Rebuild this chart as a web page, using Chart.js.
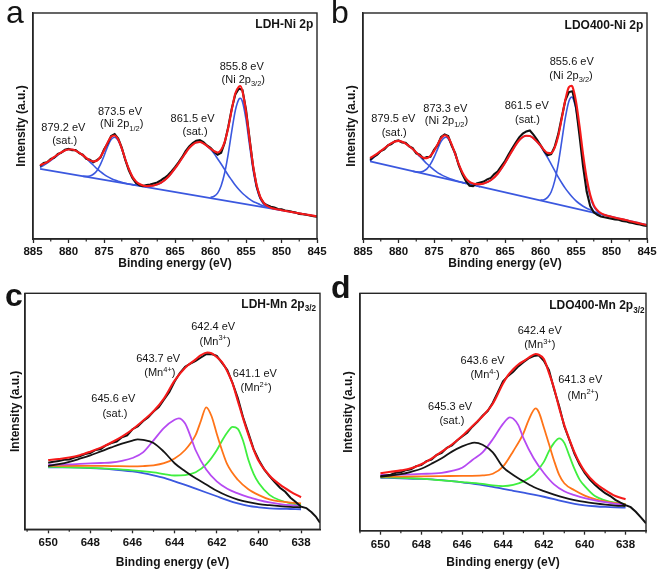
<!DOCTYPE html>
<html>
<head>
<meta charset="utf-8">
<script src="https://cdn.jsdelivr.net/npm/chart.js@4.4.1/dist/chart.umd.min.js"></script>
<style>
html,body{margin:0;padding:0;background:#fff;}
body{width:661px;height:572px;position:relative;overflow:hidden;}
canvas{position:absolute;}
</style>
</head>
<body>
<canvas id="pa" width="330" height="280" style="left:0;top:0;width:330px;height:280px"></canvas>
<canvas id="pb" width="331" height="280" style="left:330px;top:0;width:331px;height:280px"></canvas>
<canvas id="pc" width="330" height="304" style="left:0;top:268px;width:330px;height:304px"></canvas>
<canvas id="pd" width="331" height="304" style="left:330px;top:268px;width:331px;height:304px"></canvas>
<script>
// ---------------- tick labels ----------------
const niTicks = [885, 880, 875, 870, 865, 860, 855, 850, 845];
const niMinorTicks = [882.5, 877.5, 872.5, 867.5, 862.5, 857.5, 852.5, 847.5];
const mnTicks = [650, 648, 646, 644, 642, 640, 638];
const mnMinorTicks = [651, 649, 647, 645, 643, 641, 639, 637];

// ---------------- Ni 2p : energies of the raw spectra ----------------
const niGrid = [884,883.5,883,882.5,882,881.5,881,880.5,880,879.5,879,878.5,878,877.5,877,876.5,876,875.5,875,874.5,874,873.5,873,872.5,872,871.5,871,870.5,870,869.5,869,868.5,868,867.5,867,866.5,866,865.5,865,864.5,864,863.5,863,862.5,862,861.5,861,860.5,860,859.5,859,858.5,858,857.5,857,856.5,856,855.5,855,854.5,854,853.5,853,852.5,852,851.5,851,850.5,850,849.5,849,848.5,848,847.5,847,846.5,846,845.5,845];

// ---------------- (a) LDH-Ni 2p ----------------
const ldhNiRaw = [32.2,33.6,34.0,35.4,36.0,37.6,38.2,39.5,39.9,39.3,39.4,38.0,37.3,35.5,35.1,34.0,34.9,36.0,39.6,42.2,45.6,46.4,44.5,40.5,35.0,30.4,27.0,24.8,23.8,23.4,23.9,24.1,24.6,25.0,25.9,27.0,28.2,29.9,31.8,33.9,36.2,38.9,40.9,42.4,43.5,43.8,42.9,41.4,40.4,38.6,37.3,38.2,42.6,49.6,57.8,64.0,66.6,65.9,57.2,44.5,32.0,23.2,18.3,15.9,14.9,14.3,13.9,13.3,13.1,12.6,12.4,12.0,11.7,11.1,11.0,10.7,10.4,10.1,9.9];
const ldhNiFit = [[884,32.6],[883,34.0],[882,36.3],[881,38.4],[880,39.6],[879.5,39.6],[879,39.1],[878,37.1],[877.5,35.9],[877,34.8],[876.5,34.35],[876,34.6],[875.5,36.4],[875,39.2],[874.5,42.6],[874,45.2],[873.5,45.8],[873,44.0],[872.5,40.1],[872,35.3],[871.5,31.0],[871,27.6],[870.5,25.5],[870,24.35],[869.5,23.7],[869,23.4],[868.5,23.5],[868,23.7],[867,24.8],[866,27.3],[865,31.2],[864,35.8],[863,40.3],[862,42.75],[861.5,42.9],[861,42.3],[860,40.0],[859.5,38.9],[859,38.3],[858.5,39.5],[858,43.0],[857.5,49.2],[857,57.3],[856.5,64.5],[856,67.4],[855.8,67.7],[855.5,65.4],[855,56.4],[854.5,44.0],[854,32.4],[853.5,23.9],[853,18.7],[852.5,16.0],[852,14.6],[851.5,13.85],[851,13.4],[850,12.75],[849,12.15],[848,11.6],[847,11.1],[846,10.55],[845,10.0]];
const ldhNiSat879 = [[884,31.6],[883,33.6],[882,35.9],[881,38.2],[880,39.6],[879.5,39.6],[879,39.1],[878,37.05],[877.5,35.7],[877,34.1],[876.5,32.65],[876,31.1],[875.5,29.8],[875,28.6],[874.5,27.6],[874,26.8],[873.5,26.1],[873,25.6],[872.5,25.1],[872,24.7],[871.5,24.35],[871,24.1],[870.5,23.75]];
const ldhNi2p12 = [[878,27.75],[877.5,27.7],[877,27.9],[876.5,28.65],[876,30.2],[875.5,33.0],[875,36.7],[874.5,40.9],[874,44.0],[873.5,45.0],[873,43.5],[872.5,39.8],[872,35.1],[871.5,30.9],[871,27.5],[870.5,25.4],[870,24.15],[869.5,23.4],[869,22.9]];
const ldhNiSat861 = [[871,24.0],[870,23.65],[869,23.4],[868,23.7],[867,24.8],[866,27.3],[865,31.2],[864,35.8],[863,40.3],[862,42.75],[861.5,42.9],[861,42.3],[860,39.7],[859.5,37.8],[859,35.5],[858.5,33.2],[858,30.7],[857.5,28.2],[857,26.0],[856.5,23.8],[856,21.9],[855.5,20.25],[855,18.9],[854.5,17.6],[854,16.6],[853.5,15.9],[853,15.2],[852.5,14.6],[852,14.2],[851.5,13.75],[851,13.4],[850,12.75]];
const ldhNi2p32 = [[860,18.4],[859.5,18.9],[859,20.3],[858.5,23.6],[858,29.3],[857.5,37.7],[857,47.8],[856.5,56.9],[856,61.9],[855.8,62.3],[855.5,60.75],[855,52.9],[854.5,41.5],[854,30.6],[853.5,22.6],[853,17.8],[852.5,15.4],[852,14.2],[851.5,13.6]];
const ldhNiBg = [[884,31.0],[845,10.0]];

// ---------------- (b) LDO400-Ni 2p ----------------
const ldoNiRaw = [35.0,36.4,37.3,38.9,39.6,41.4,42.0,43.3,43.6,42.7,42.6,41.0,40.2,37.9,37.3,35.6,36.3,36.4,39.5,41.5,45.2,46.3,45.6,41.2,37.9,32.4,28.6,25.6,23.6,23.4,24.6,25.0,25.4,26.4,27.0,28.7,30.0,32.2,34.5,37.4,40.0,42.6,45.0,46.6,47.6,48.0,46.2,44.0,41.6,39.0,37.0,37.5,40.8,46.4,54.0,61.4,65.0,65.4,58.4,45.5,32.0,21.0,14.6,11.8,10.7,10.0,9.6,9.3,9.0,8.7,8.5,8.0,7.8,7.3,7.1,6.6,6.4,6.0,5.8];
const ldoNiFit = [[884,35.8],[883,37.8],[882,40.1],[881,42.4],[880,43.4],[879.5,43.0],[879,42.2],[878,39.8],[877.5,38.3],[877,36.9],[876.5,36.0],[876,35.8],[875.5,36.8],[875,38.9],[874.5,41.8],[874,44.6],[873.5,45.9],[873,45.0],[872.5,41.8],[872,37.5],[871.5,33.0],[871,29.4],[870.5,26.8],[870,25.3],[869.5,24.6],[869,24.3],[868.5,24.3],[868,24.6],[867,26.0],[866,29.0],[865,33.6],[864,39.0],[863,43.7],[862,45.7],[861.5,45.6],[861,44.6],[860,41.35],[859.5,39.4],[859,38.1],[858.5,38.0],[858,40.4],[857.5,45.6],[857,53.4],[856.5,61.6],[856,67.2],[855.6,67.8],[855.5,67.4],[855,60.9],[854.5,49.9],[854,37.4],[853.5,26.9],[853,19.6],[852.5,15.0],[852,12.7],[851.5,11.4],[851,10.7],[850,9.85],[849,9.1],[848,8.4],[847,7.6],[846,6.9],[845,6.2]];
const ldoNiSat879 = [[884,34.6],[883,37.4],[882,40.1],[881,42.4],[880,43.4],[879.5,43.0],[879,42.2],[878,39.8],[877.5,38.2],[877,36.5],[876.5,34.9],[876,33.3],[875.5,31.9],[875,30.6],[874.5,29.4],[874,28.5],[873.5,27.7],[873,27.0],[872.5,26.4],[872,25.9],[871.5,25.45],[871,25.0],[870.5,24.6]];
const ldoNi2p12 = [[878,29.96],[877.5,29.7],[877,29.6],[876.5,30.0],[876,31.0],[875.5,33.1],[875,36.1],[874.5,39.8],[874,43.2],[873.5,44.9],[873.3,45.0],[873,44.4],[872.5,41.4],[872,37.2],[871.5,32.9],[871,29.2],[870.5,26.7],[870,25.1],[869.5,24.2],[869,23.6],[868.5,23.12]];
const ldoNiSat861 = [[871,25.0],[870,24.4],[869.5,24.2],[869,24.2],[868.5,24.3],[868,24.6],[867,26.0],[866,29.0],[865,33.6],[864,39.0],[863,43.7],[862,45.7],[861.7,45.7],[861.5,45.6],[861,44.6],[860,41.1],[859.5,38.6],[859,36.0],[858.5,33.1],[858,30.3],[857.5,27.4],[857,24.8],[856.5,22.4],[856,20.3],[855.5,18.5],[855,16.9],[854.5,15.6],[854,14.5],[853.5,13.6],[853,12.9],[852.5,12.2],[852,11.6],[851.5,11.1],[851,10.6],[850,9.85]];
const ldoNi2p32 = [[860,17.25],[859.5,17.4],[859,18.4],[858.5,20.8],[858,25.7],[857.5,33.4],[857,43.4],[856.5,53.7],[856,61.0],[855.6,62.8],[855.5,62.7],[855,57.4],[854.5,47.3],[854,35.6],[853.5,25.6],[853,18.7],[852.5,14.4],[852,12.3],[851.5,11.2],[851,10.6]];
const ldoNiBg = [[884,34.3],[845,6.2]];

// ---------------- (c) LDH-Mn 2p3/2 ----------------
const ldhMnRaw = [[650,28.2],[649.75,28.6],[649.5,28.9],[649.25,29.5],[649,29.6],[648.75,30.4],[648.5,30.9],[648.25,31.9],[648,32.3],[647.75,33.6],[647.5,34.0],[647.25,35.6],[647,36.5],[646.75,37.2],[646.5,39.0],[646.25,39.8],[646,42.4],[645.75,43.6],[645.5,45.8],[645.25,47.5],[645,49.9],[644.75,51.8],[644.5,55.0],[644.25,58.2],[644,62.6],[643.75,66.2],[643.5,68.9],[643.25,70.2],[643,71.4],[642.75,72.8],[642.5,74.2],[642.25,74.3],[642,73.5],[641.75,70.5],[641.5,67.5],[641.25,62.0],[641,55.6],[640.75,47.5],[640.5,40.8],[640.25,34.0],[640,29.3],[639.75,25.4],[639.5,22.5],[639.25,20.0],[639,17.6],[638.75,15.9],[638.5,13.4],[638.25,11.6],[638,9.6],[637.75,9.0],[637.5,7.2],[637.3,5.4],[637.1,2.8]];
const ldhMnFit = [[650,29.3],[649.5,29.8],[649,30.4],[648.5,31.4],[648,32.9],[647.5,34.6],[647,36.8],[646.5,39.3],[646,42.3],[645.5,46.0],[645,50.0],[644.5,55.5],[644,63.0],[643.5,68.5],[643,72.0],[642.75,73.8],[642.45,74.9],[642.25,74.6],[642,73.0],[641.75,70.8],[641.5,67.0],[641.25,61.8],[641,54.4],[640.75,47.0],[640.5,40.1],[640.25,33.8],[640,28.8],[639.5,22.8],[639,18.9],[638.5,16.0],[638,13.6]];
const ldhMnSat = [[650,26.8],[649.5,27.6],[649,28.6],[648.5,29.9],[648,31.3],[647.5,33.0],[647,34.7],[646.5,36.3],[646,37.6],[645.75,38.1],[645.5,37.9],[645,36.6],[644.5,32.8],[644,28.0],[643.5,24.6],[643,21.6],[642.5,19.0],[642,16.3],[641.5,14.2],[641,12.6],[640.5,11.5],[640,10.7],[639.5,10.2],[639,9.8],[638.5,9.5],[638,9.3]];
const ldhMn4 = [[650,27.3],[649.5,27.4],[649,27.5],[648.5,27.7],[648,27.9],[647.5,28.1],[647,28.3],[646.5,29.0],[646,30.2],[645.5,32.6],[645,37.7],[644.5,43.0],[644,46.4],[643.8,47.0],[643.5,44.8],[643.25,39.5],[643,33.5],[642.5,25.3],[642,20.3],[641.5,17.2],[641,15.2],[640.5,13.6],[640,12.4],[639.5,11.4],[639,10.7],[638.5,10.2],[638,9.9]];
const ldhMn3 = [[650,26.9],[649,26.9],[648,26.9],[647,26.8],[646,26.7],[645.5,26.8],[645,27.1],[644.5,28.0],[644,30.0],[643.5,33.6],[643,40.0],[642.75,46.0],[642.5,51.7],[642.25,48.0],[642,40.5],[641.75,33.5],[641.5,27.5],[641,21.0],[640.5,17.0],[640,14.5],[639.5,12.7],[639,11.8],[638.5,11.3],[638,11.0]];
const ldhMn2 = [[650,26.5],[649,26.3],[648,26.0],[647,25.6],[646,25.0],[645,24.1],[644.5,23.4],[644,22.8],[643.5,23.0],[643,24.2],[642.5,27.5],[642,33.5],[641.75,37.5],[641.5,41.0],[641.25,43.4],[641,42.6],[640.75,37.5],[640.5,29.5],[640.25,23.5],[640,19.5],[639.5,14.6],[639,12.3],[638.5,11.0],[638,10.3]];
const ldhMnBg = [[650,26.3],[649,26.2],[648,25.9],[647,25.4],[646.5,25.0],[646,24.5],[645.5,23.8],[645,22.9],[644.5,21.8],[644,20.3],[643.5,18.8],[643,17.2],[642.5,15.6],[642,14.0],[641.5,12.4],[641,11.0],[640.5,9.9],[640,9.3],[639.5,8.9],[639,8.7],[638.5,8.6],[638,8.5]];

// ---------------- (d) LDO400-Mn 2p3/2 ----------------
const ldoMnRaw = [[650,22.9],[649.75,23.3],[649.5,23.6],[649.25,24.4],[649,24.6],[648.75,25.5],[648.5,25.9],[648.25,27.2],[648,27.6],[647.75,29.3],[647.5,29.9],[647.25,31.9],[647,32.8],[646.75,34.9],[646.5,35.9],[646.25,38.0],[646,39.7],[645.75,41.3],[645.5,43.8],[645.25,45.9],[645,48.4],[644.75,50.4],[644.5,53.9],[644.25,58.4],[644,62.9],[643.75,65.2],[643.5,66.9],[643.25,69.2],[643,71.0],[642.75,72.6],[642.5,73.6],[642.25,73.9],[642,71.6],[641.75,67.6],[641.5,59.6],[641.25,52.4],[641,44.0],[640.75,38.2],[640.5,32.4],[640.25,27.9],[640,24.3],[639.75,21.5],[639.5,19.4],[639.25,17.5],[639,15.8],[638.75,14.6],[638.5,13.0],[638.25,11.8],[638,10.8],[637.75,9.9],[637.5,8.0],[637.25,5.6],[637.0,3.1]];
const ldoMnFit = [[650,24.2],[649.5,24.8],[649,25.4],[648.5,26.3],[648,28.0],[647.5,30.4],[647,33.3],[646.5,36.3],[646,39.9],[645.5,44.0],[645,48.2],[644.5,53.5],[644,62.0],[643.75,65.5],[643.5,68.0],[643.25,70.0],[643,71.4],[642.75,72.8],[642.4,74.4],[642.25,74.1],[642,72.3],[641.75,66.5],[641.5,60.0],[641.25,51.7],[641,44.5],[640.75,38.5],[640.5,33.0],[640.25,28.5],[640,25.0],[639.5,20.2],[639,17.1],[638.5,14.6],[638,13.2]];
const ldoMnSat = [[650,22.75],[649.5,23.2],[649,23.8],[648.5,24.8],[648,26.1],[647.5,28.2],[647,30.5],[646.5,33.3],[646,35.5],[645.5,37.0],[645.4,37.1],[645,36.2],[644.5,33.0],[644,26.8],[643.5,23.5],[643,20.8],[642.5,18.4],[642,16.7],[641.5,15.2],[641,13.9],[640.5,12.9],[640,12.1],[639.5,11.5],[639,11.0],[638.5,10.6],[638,10.4]];
const ldoMn4 = [[650,23.5],[649,23.6],[648,23.9],[647,24.4],[646.5,25.2],[646,26.5],[645.5,29.8],[645,33.0],[644.5,38.5],[644,45.0],[643.66,47.75],[643.5,47.2],[643.25,44.5],[643,39.0],[642.5,30.5],[642,24.3],[641.5,19.5],[641,16.6],[640.5,15.0],[640,13.7],[639.5,12.8],[639,12.0],[638.5,11.3],[638,10.8]];
const ldoMn3 = [[650,22.75],[649,22.8],[648,22.9],[647,23.0],[646,23.1],[645,23.3],[644.5,24.0],[644,27.0],[643.5,33.5],[643,41.0],[642.75,46.5],[642.4,51.5],[642.25,50.0],[642,43.5],[641.75,36.5],[641.5,29.5],[641.25,23.5],[641,20.0],[640.5,17.0],[640,14.8],[639.5,13.3],[639,12.3],[638.5,11.6],[638,11.2]];
const ldoMn2 = [[650,22.5],[649,22.3],[648,21.9],[647,21.2],[646,20.5],[645,19.7],[644.5,19.1],[644,18.8],[643.5,19.3],[643,20.8],[642.5,23.6],[642,29.0],[641.75,33.5],[641.5,37.0],[641.25,38.9],[641,37.0],[640.75,31.5],[640.5,26.0],[640.25,21.5],[640,18.8],[639.5,14.6],[639,12.8],[638.5,11.8],[638,11.2]];
const ldoMnBg = [[650,22.3],[649,22.1],[648,21.8],[647,21.3],[646.5,20.9],[646,20.4],[645.5,19.8],[645,19.2],[644.5,18.5],[644,17.6],[643.5,16.8],[643,16.0],[642.5,15.2],[642,14.3],[641.5,13.3],[641,12.2],[640.5,11.3],[640,10.7],[639.5,10.3],[639,10.0],[638.5,9.8],[638,9.7]];

// ---------------- peak labels (energy, intensity anchor, text runs: 0 normal, 1 sup, -1 sub) ----------------
const labelsA = [
  {x:880.73, y:49.5, s:[['879.2 eV',0]]}, {x:880.53, y:43.4, s:[['(sat.)',0]]},
  {x:872.75, y:56.5, s:[['873.5 eV',0]]}, {x:872.51, y:50.9, s:[['(Ni 2p',0],['1/2',-1],[')',0]]},
  {x:862.53, y:53.5, s:[['861.5 eV',0]]}, {x:862.18, y:47.5, s:[['(sat.)',0]]},
  {x:855.60, y:76.2, s:[['855.8 eV',0]]}, {x:855.38, y:70.4, s:[['(Ni 2p',0],['3/2',-1],[')',0]]}
];
const labelsB = [
  {x:880.73, y:53.4, s:[['879.5 eV',0]]}, {x:880.61, y:47.3, s:[['(sat.)',0]]},
  {x:873.41, y:57.8, s:[['873.3 eV',0]]}, {x:873.24, y:52.3, s:[['(Ni 2p',0],['1/2',-1],[')',0]]},
  {x:861.94, y:59.3, s:[['861.5 eV',0]]}, {x:861.83, y:52.7, s:[['(sat.)',0]]},
  {x:855.60, y:78.5, s:[['855.6 eV',0]]}, {x:855.70, y:72.2, s:[['(Ni 2p',0],['3/2',-1],[')',0]]}
];
const labelsC = [
  {x:642.17, y:85.8, s:[['642.4 eV',0]]}, {x:642.08, y:79.7, s:[['(Mn',0],['3+',1],[')',0]]},
  {x:644.78, y:72.5, s:[['643.7 eV',0]]}, {x:644.70, y:66.3, s:[['(Mn',0],['4+',1],[')',0]]},
  {x:640.19, y:66.1, s:[['641.1 eV',0]]}, {x:640.13, y:59.9, s:[['(Mn',0],['2+',1],[')',0]]},
  {x:646.91, y:55.3, s:[['645.6 eV',0]]}, {x:646.83, y:49.2, s:[['(sat.)',0]]}
];
const labelsD = [
  {x:642.20, y:84.5, s:[['642.4 eV',0]]}, {x:642.20, y:78.3, s:[['(Mn',0],['3+',1],[')',0]]},
  {x:645.00, y:71.5, s:[['643.6 eV',0]]}, {x:644.88, y:65.7, s:[['(Mn',0],['4-',1],[')',0]]},
  {x:640.22, y:63.5, s:[['641.3 eV',0]]}, {x:640.08, y:57.0, s:[['(Mn',0],['2+',1],[')',0]]},
  {x:646.59, y:52.2, s:[['645.3 eV',0]]}, {x:646.50, y:46.5, s:[['(sat.)',0]]}
];

// ---------------- rendering ----------------
const FONT = "'Liberation Sans', Arial, Helvetica, sans-serif";
const AX = '#262626';
const TXT = '#141414';
const C = {fit:'#f51a1a', raw:'#111111', blue:'#3b58df', purple:'#b64af2', orange:'#ff7418', green:'#3fef3f', dark:'#151515'};

const pts = a => a.map(p => ({x:p[0], y:p[1]}));
const zip = (xs, ys) => xs.map((x, i) => ({x, y:ys[i]}));

function drawRich(ctx, runs, cx, cy, size, weight, align) {
  const parts = runs.map(([t, k]) => {
    const fs = k === 0 ? size : size * 0.68;
    ctx.font = `${weight} ${fs}px ${FONT}`;
    return {t, k, fs, w: ctx.measureText(t).width};
  });
  const total = parts.reduce((s, p) => s + p.w, 0);
  let x = align === 'right' ? cx - total : cx - total / 2;
  const base = cy + size * 0.32;
  ctx.textAlign = 'left';
  ctx.textBaseline = 'alphabetic';
  for (const p of parts) {
    ctx.font = `${weight} ${p.fs}px ${FONT}`;
    const dy = p.k === -1 ? size * 0.28 : (p.k === 1 ? -size * 0.42 : 0);
    ctx.fillText(p.t, x, base + dy);
    x += p.w;
  }
}

function decor(p) {
  return {
    id: 'decor_' + p.id,
    afterDraw(chart) {
      const ctx = chart.ctx, ca = chart.chartArea, xs = chart.scales.x, ys = chart.scales.y;
      ctx.save();
      ctx.strokeStyle = AX;
      ctx.lineWidth = 1.4;
      ctx.strokeRect(ca.left, ca.top, ca.right - ca.left, ca.bottom - ca.top);
      ctx.lineWidth = 1.2;
      p.minor.forEach(v => {
        if (v < xs.min || v > xs.max) return;
        const x = xs.getPixelForValue(v);
        ctx.beginPath(); ctx.moveTo(x, ca.bottom); ctx.lineTo(x, ca.bottom + 2.5); ctx.stroke();
      });
      ctx.fillStyle = TXT;
      p.labels.forEach(a => drawRich(ctx, a.s, xs.getPixelForValue(a.x), ys.getPixelForValue(a.y), 11, 'normal', 'center'));
      drawRich(ctx, p.title, ca.right - p.titleDx, ca.top + p.titleDy, 12, 'bold', 'right');
      ctx.font = `${p.letterWeight} 32px ${FONT}`;
      ctx.textAlign = 'left'; ctx.textBaseline = 'alphabetic';
      ctx.fillText(p.letter, p.letterX, p.letterY);
      ctx.restore();
    }
  };
}

function line(data, color, width, smooth) {
  const d = {data, borderColor: color, borderWidth: width, pointRadius: 0, fill: false};
  if (smooth) d.cubicInterpolationMode = 'monotone'; else d.tension = 0;
  return d;
}

function build(p) {
  new Chart(document.getElementById(p.id), {
    type: 'line',
    data: {datasets: p.datasets},
    options: {
      responsive: false, animation: false, devicePixelRatio: 1, events: [],
      layout: {padding: {left: 0, top: p.area.t, right: p.W - p.area.r, bottom: 0}},
      plugins: {legend: {display: false}, tooltip: {enabled: false}},
      scales: {
        x: {
          type: 'linear', reverse: true, min: p.xmin, max: p.xmax, position: 'bottom',
          afterBuildTicks: s => { s.ticks = p.ticks.map(v => ({value: v})); },
          afterFit: s => { s.height = p.H - p.area.b; },
          ticks: {autoSkip: false, maxRotation: 0, minRotation: 0, padding: p.tickPad, color: TXT,
                  font: {family: FONT, size: 11.5, weight: 'bold'}, callback: v => String(v)},
          grid: {display: true, drawOnChartArea: false, drawTicks: true, tickLength: 4, tickColor: AX, tickWidth: 1.3},
          border: {display: true, color: AX, width: 1.4},
          title: {display: true, text: 'Binding energy (eV)', color: TXT,
                  font: {family: FONT, size: 12, weight: 'bold'}, padding: {top: 0, bottom: p.xTitlePad}}
        },
        y: {
          type: 'linear', min: 0, max: 100, position: 'left',
          afterFit: s => { s.width = p.area.l; },
          ticks: {display: false},
          grid: {display: false, drawTicks: false},
          border: {display: true, color: AX, width: 1.4},
          title: {display: true, text: 'Intensity (a.u.)', color: TXT,
                  font: {family: FONT, size: 12, weight: 'bold'}, padding: {top: p.yTitlePad, bottom: 0}}
        }
      }
    },
    plugins: [decor(p)]
  });
}

build({
  id: 'pa', W: 330, H: 280, area: {l: 33, r: 317, t: 13, b: 239}, xmin: 845, xmax: 885,
  ticks: niTicks, minor: niMinorTicks, tickPad: 1.8, xTitlePad: 9.5, yTitlePad: 14.5,
  labels: labelsA, title: [['LDH-Ni 2p', 0]], titleDx: 3.7, titleDy: 11.5,
  letter: 'a', letterWeight: 'normal', letterX: 6, letterY: 22.7,
  datasets: [
    line(pts(ldhNiFit), C.fit, 2.1, true),
    line(zip(niGrid, ldhNiRaw), C.raw, 2.1, false),
    line(pts(ldhNiSat879), C.blue, 1.6, true),
    line(pts(ldhNi2p12), C.blue, 1.6, true),
    line(pts(ldhNiSat861), C.blue, 1.6, true),
    line(pts(ldhNi2p32), C.blue, 1.6, true),
    line(pts(ldhNiBg), C.blue, 1.8, false)
  ]
});

build({
  id: 'pb', W: 331, H: 280, area: {l: 33, r: 317, t: 13, b: 239}, xmin: 845, xmax: 885,
  ticks: niTicks, minor: niMinorTicks, tickPad: 1.8, xTitlePad: 9.5, yTitlePad: 14.5,
  labels: labelsB, title: [['LDO400-Ni 2p', 0]], titleDx: 3.7, titleDy: 12,
  letter: 'b', letterWeight: 'normal', letterX: 1, letterY: 22.7,
  datasets: [
    line(pts(ldoNiFit), C.fit, 2.1, true),
    line(zip(niGrid, ldoNiRaw), C.raw, 2.1, false),
    line(pts(ldoNiSat879), C.blue, 1.6, true),
    line(pts(ldoNi2p12), C.blue, 1.6, true),
    line(pts(ldoNiSat861), C.blue, 1.6, true),
    line(pts(ldoNi2p32), C.blue, 1.6, true),
    line(pts(ldoNiBg), C.blue, 1.8, false)
  ]
});

build({
  id: 'pc', W: 330, H: 304, area: {l: 25, r: 320, t: 25.3, b: 261.3}, xmin: 637.1, xmax: 651.1,
  ticks: mnTicks, minor: mnMinorTicks, tickPad: 3.1, xTitlePad: 2.6, yTitlePad: 8.1,
  labels: labelsC, title: [['LDH-Mn 2p', 0], ['3/2', -1]], titleDx: 4, titleDy: 10.4,
  letter: 'c', letterWeight: 'bold', letterX: 5, letterY: 38,
  datasets: [
    line(pts(ldhMnFit), C.fit, 2.1, true),
    line(pts(ldhMnRaw), C.raw, 2.0, false),
    line(pts(ldhMnSat), C.dark, 1.8, true),
    line(pts(ldhMn4), C.purple, 1.8, true),
    line(pts(ldhMn3), C.orange, 1.8, true),
    line(pts(ldhMn2), C.green, 1.8, true),
    line(pts(ldhMnBg), C.blue, 1.8, true)
  ]
});

build({
  id: 'pd', W: 331, H: 304, area: {l: 30, r: 316, t: 25.3, b: 262.7}, xmin: 637.0, xmax: 651.0,
  ticks: mnTicks, minor: mnMinorTicks, tickPad: 3.4, xTitlePad: 2.5, yTitlePad: 11.5,
  labels: labelsD, title: [['LDO400-Mn 2p', 0], ['3/2', -1]], titleDx: 1.5, titleDy: 12,
  letter: 'd', letterWeight: 'bold', letterX: 1, letterY: 30,
  datasets: [
    line(pts(ldoMnFit), C.fit, 2.1, true),
    line(pts(ldoMnRaw), C.raw, 2.0, false),
    line(pts(ldoMnSat), C.dark, 1.8, true),
    line(pts(ldoMn4), C.purple, 1.8, true),
    line(pts(ldoMn3), C.orange, 1.8, true),
    line(pts(ldoMn2), C.green, 1.8, true),
    line(pts(ldoMnBg), C.blue, 1.8, true)
  ]
});
</script>
</body>
</html>
